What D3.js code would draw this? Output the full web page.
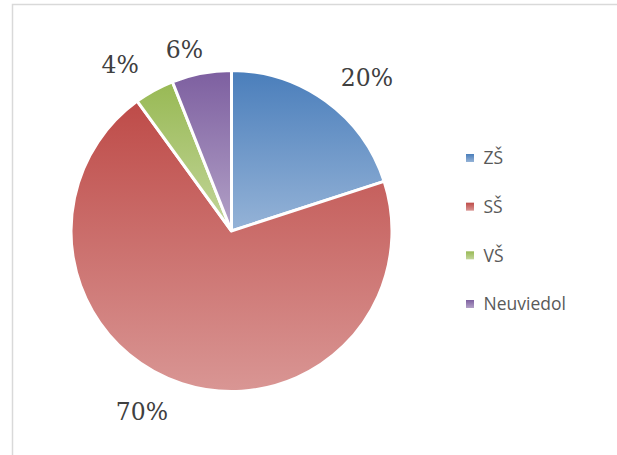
<!DOCTYPE html>
<html>
<head>
<meta charset="utf-8">
<script src="https://cdn.jsdelivr.net/npm/d3@7"></script>
<style>
  html, body { margin: 0; padding: 0; background: #fff; }
  svg { display: block; }
</style>
</head>
<body>
<div id="chart"></div>
<script>
// education level distribution
const categories = ["ZŠ", "SŠ", "VŠ", "Neuviedol"];
const values = [20, 70, 4, 6];
const labels = ["20%", "70%", "4%", "6%"];

// Office style colours: dark at top of slice, lighter at bottom
const topColors = ["#4a7ebb", "#be4b48", "#98b954", "#7d5fa0"];
const bottomColors = ["#95b3d7", "#d99694", "#c3d69b", "#b3a2c7"];

// "best fit" label nudges, relative to the slice edge at mid angle
const labelNudge = [[41, -24], [-40, 28], [-34, -26], [-17, -24]];

const width = 617;
const height = 455;
const cx = 231.5, cy = 231;
const radius = 160.5;

const svg = d3.select("#chart")
    .append("svg")
    .attr("width", width)
    .attr("height", height);

// chart area border (runs off the right/bottom of the picture)
svg.append("rect")
    .attr("x", 12.5)
    .attr("y", 4.5)
    .attr("width", 640)
    .attr("height", 480)
    .attr("fill", "#fff")
    .attr("stroke", "#d9d9d9")
    .attr("stroke-width", 1.5);

const defs = svg.append("defs");
categories.forEach((c, i) => {
    const g = defs.append("linearGradient")
        .attr("id", "grad" + i)
        .attr("x1", 0).attr("y1", 0)
        .attr("x2", 0).attr("y2", 1);
    g.append("stop").attr("offset", "0%").attr("stop-color", topColors[i]);
    g.append("stop").attr("offset", "100%").attr("stop-color", bottomColors[i]);
});

const pie = d3.pie().sort(null).value(d => d);
const arcs = pie(values);

const arc = d3.arc().innerRadius(0).outerRadius(radius);
const edgeArc = d3.arc().innerRadius(radius).outerRadius(radius);

const g = svg.append("g").attr("transform", `translate(${cx},${cy})`);

g.selectAll("path")
    .data(arcs)
    .join("path")
    .attr("d", arc)
    .attr("fill", (d, i) => `url(#grad${i})`)
    .attr("stroke", "#fff")
    .attr("stroke-width", 3)
    .attr("stroke-linejoin", "miter");

g.selectAll("text.lbl")
    .data(arcs)
    .join("text")
    .attr("class", "lbl")
    .attr("transform", (d, i) => {
        const [x, y] = edgeArc.centroid(d);
        return `translate(${x + labelNudge[i][0]},${y + labelNudge[i][1]})`;
    })
    .attr("text-anchor", "middle")
    .attr("dy", "0.36em")
    .attr("font-family", "'DejaVu Serif', serif")
    .attr("font-size", 23.5)
    .attr("fill", "#404040")
    .text((d, i) => labels[i]);

// legend
const legendY = d3.scalePoint()
    .domain(categories)
    .range([158, 304]);

const legend = svg.append("g").attr("transform", "translate(466,0)");
const item = legend.selectAll("g")
    .data(categories)
    .join("g")
    .attr("transform", d => `translate(0,${legendY(d)})`);

item.append("rect")
    .attr("x", 0)
    .attr("y", -4)
    .attr("width", 8)
    .attr("height", 8)
    .attr("fill", (d, i) => `url(#grad${i})`);

item.append("text")
    .attr("x", 17.5)
    .attr("dy", "0.36em")
    .attr("font-family", "'Open Sans', sans-serif")
    .attr("font-size", 17.5)
    .attr("fill", "#595959")
    .text(d => d);
</script>
</body>
</html>
